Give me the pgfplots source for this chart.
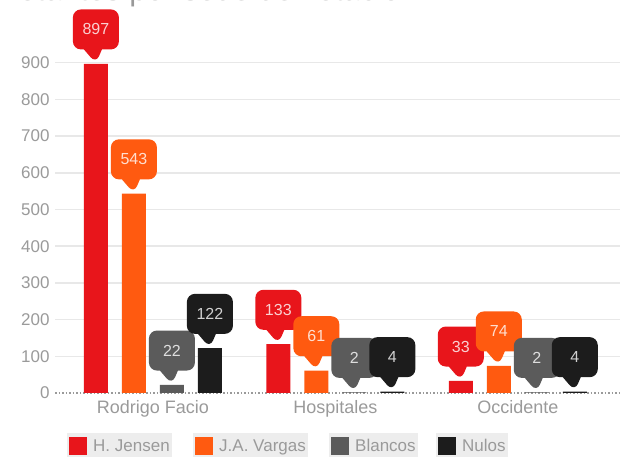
\documentclass[border=0pt]{standalone}
\usepackage{pgfplots}
\pgfplotsset{compat=1.18}
\usepackage{fontspec}
\setmainfont{Liberation Sans}
\usetikzlibrary{shapes.callouts}
\definecolor{cR}{HTML}{E8151B}
\definecolor{cO}{HTML}{FF5A10}
\definecolor{cG}{HTML}{5B5B5B}
\definecolor{cK}{HTML}{1C1C1C}
\definecolor{tickc}{HTML}{9A9A9A}
\definecolor{gridc}{HTML}{E8E8E8}
\definecolor{legbg}{HTML}{EDEDED}
\begin{document}
\begin{tikzpicture}[x=1pt,y=1pt]
\path[use as bounding box] (0,0) rectangle (627,457);
\node[anchor=base west, font=\fontsize{31}{34}\selectfont, text=gray!80, inner sep=0pt] at (0,456) {Votantes por sede de votación};
\begin{axis}[
  at={(55pt,64pt)}, anchor=south west, scale only axis,
  width=565pt, height=367pt,
  xmin=-0.537, xmax=2.56, ymin=0, ymax=1000,
  axis line style={draw=none},
  ybar, bar width=24pt,
  xtick={0,1,2}, xticklabels={Rodrigo Facio,Hospitales,Occidente},
  ytick={100,200,...,900},
  extra y ticks={0},
  extra y tick style={grid style={tickc, dotted, line width=1.2pt}},
  ymajorgrids, grid style={gridc, line width=1.5pt},
  major tick length=0pt,
  tick style={draw=none},
  ticklabel style={text=tickc},
  yticklabel style={font=\fontsize{17}{19}\selectfont, xshift=-2pt},
  xticklabel style={font=\fontsize{18}{20}\selectfont, yshift=-4pt},
  /pgf/number format/assume math mode=true,
  clip=false,
  nodes near coords,
  every node near coord/.style={rectangle callout, rounded corners=8pt,
     callout relative pointer={(0pt,-14pt)}, callout pointer width=18pt,
     minimum width=46pt, minimum height=40pt, inner xsep=9pt,
     text=white, text opacity=0.8,
     font=\fontsize{16}{18}\selectfont},
]
\addplot[fill=cR, draw=none, bar shift=-57pt,
  every node near coord/.append style={fill=cR, anchor=pointer, xshift=-57pt}]
  coordinates {(0,897) (1,133) (2,33)};
\addplot[fill=cO, draw=none, bar shift=-19pt,
  every node near coord/.append style={fill=cO, anchor=pointer, xshift=-19pt}]
  coordinates {(0,543) (1,61) (2,74)};
\addplot[fill=cG, draw=none, bar shift=19pt,
  every node near coord/.append style={fill=cG, anchor=pointer, xshift=19pt}]
  coordinates {(0,22) (1,2) (2,2)};
\addplot[fill=cK, draw=none, bar shift=57pt,
  every node near coord/.append style={fill=cK, anchor=pointer, xshift=57pt}]
  coordinates {(0,122) (1,4) (2,4)};
\end{axis}
\begin{scope}[every node/.style={fill=legbg, anchor=west, inner xsep=2pt, inner ysep=4pt, text=tickc, font=\fontsize{17}{19}\selectfont}]
\node at (67,11) {\textcolor{cR}{\rule[-3pt]{18pt}{18pt}}\hspace{6pt}H. Jensen\hspace{6pt}};
\node at (193,11) {\textcolor{cO}{\rule[-3pt]{18pt}{18pt}}\hspace{6pt}J.A. Vargas\hspace{6pt}};
\node at (329,11) {\textcolor{cG}{\rule[-3pt]{18pt}{18pt}}\hspace{6pt}Blancos\hspace{6pt}};
\node at (436,11) {\textcolor{cK}{\rule[-3pt]{18pt}{18pt}}\hspace{6pt}Nulos\hspace{6pt}};
\end{scope}
\end{tikzpicture}
\end{document}
